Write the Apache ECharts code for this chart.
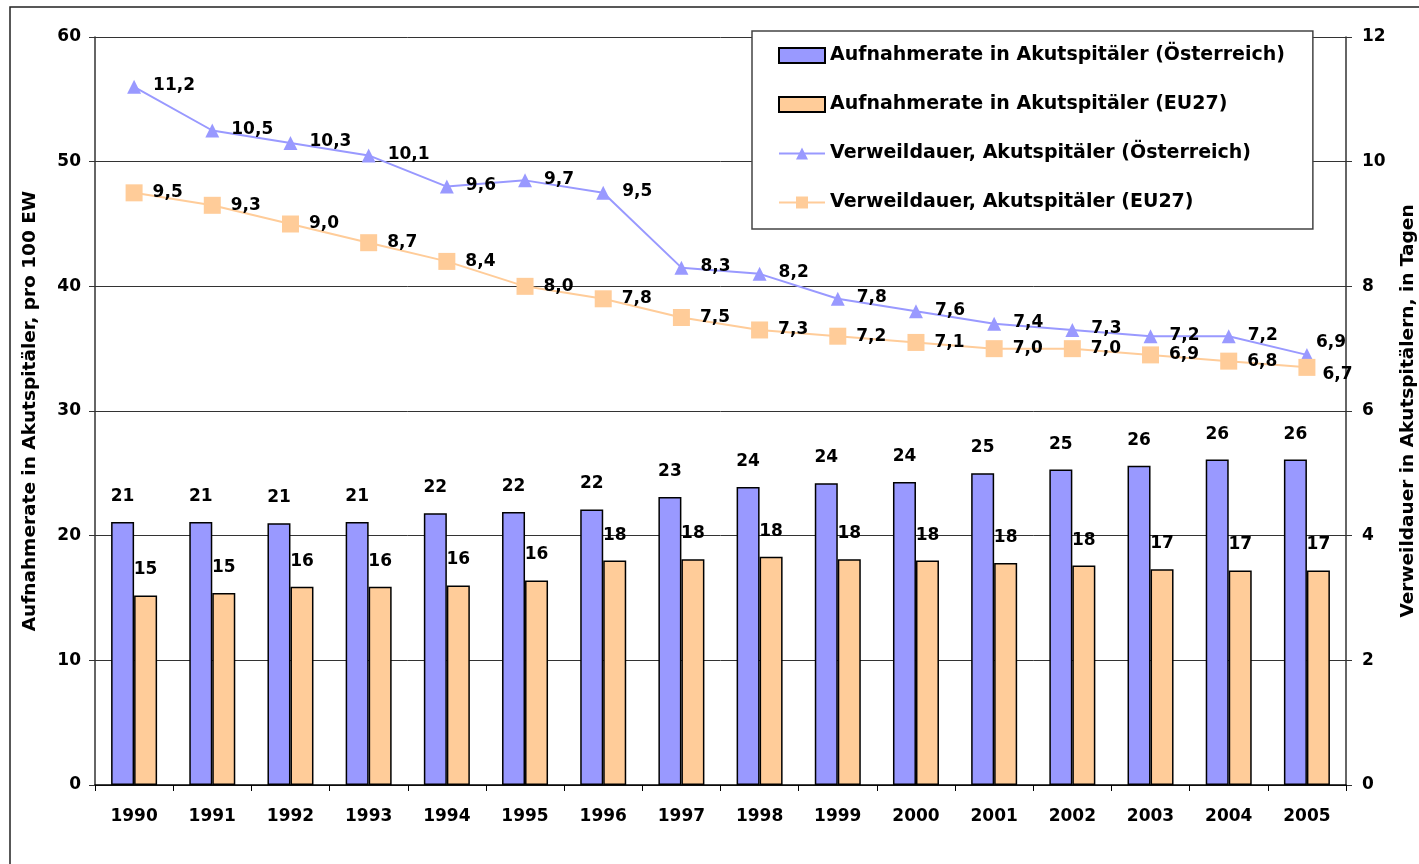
<!DOCTYPE html>
<html>
<head>
<meta charset="utf-8">
<script src="https://cdn.jsdelivr.net/npm/echarts@6/dist/echarts.min.js"></script>
<style>
  html, body { margin: 0; padding: 0; background: #fff; }
  #main { width: 1419px; height: 864px; }
</style>
</head>
<body>
<div id="main"></div>
<script>
var years = ['1990', '1991', '1992', '1993', '1994', '1995', '1996', '1997',
             '1998', '1999', '2000', '2001', '2002', '2003', '2004', '2005'];

// admissions per 100 inhabitants (bars, left axis)
var admAT = [21.1, 21.1, 21.0, 21.1, 21.8, 21.9, 22.1, 23.1, 23.9, 24.2, 24.3, 25.0, 25.3, 25.6, 26.1, 26.1];
var admEU = [15.2, 15.4, 15.9, 15.9, 16.0, 16.4, 18.0, 18.1, 18.3, 18.1, 18.0, 17.8, 17.6, 17.3, 17.2, 17.2];

// length of stay in days (lines, right axis)
var stayAT = [11.2, 10.5, 10.3, 10.1, 9.6, 9.7, 9.5, 8.3, 8.2, 7.8, 7.6, 7.4, 7.3, 7.2, 7.2, 6.9];
var stayEU = [9.5, 9.3, 9.0, 8.7, 8.4, 8.0, 7.8, 7.5, 7.3, 7.2, 7.1, 7.0, 7.0, 6.9, 6.8, 6.7];

var leftTicks = [0, 10, 20, 30, 40, 50, 60];
var rightTicks = [0, 2, 4, 6, 8, 10, 12];

var FONT = 'DejaVu Sans, Verdana, sans-serif';
var FSIZE = 17;
var BLUE = '#9999FF';
var ORANGE = '#FFCC99';

var myChart = echarts.init(document.getElementById('main'));

// last point label gets its own nudge (it sits against the right axis)
function lineData(values, lastOffset) {
    return values.map(function (v, i) {
        var item = { value: v };
        if (i === values.length - 1) {
            item.label = { offset: lastOffset };
        }
        return item;
    });
}

var labelStyle = {
    show: true,
    color: '#000',
    fontFamily: FONT,
    fontWeight: 'bold',
    fontSize: FSIZE
};

var axisText = {
    color: '#000',
    fontFamily: FONT,
    fontWeight: 'bold',
    fontSize: FSIZE
};

var bigText = Object.assign({}, axisText, { fontSize: 19 });

var option = {
    animation: false,
    backgroundColor: '#fff',
    textStyle: { fontFamily: FONT },
    graphic: [{
        type: 'rect',
        shape: { x: 10, y: 7, width: 1430, height: 900 },
        style: { fill: 'none', stroke: '#222', lineWidth: 1.5 },
        silent: true,
        z: -1
    }],
    legend: {
        orient: 'vertical',
        left: 752,
        top: 31,
        padding: [15, 28, 17, 26],
        itemGap: 30,
        itemWidth: 46,
        itemHeight: 15,
        backgroundColor: '#fff',
        borderColor: '#444',
        borderWidth: 1.5,
        textStyle: bigText,
        data: [
            { name: 'Aufnahmerate in Akutspitäler (Österreich)', icon: 'rect' },
            { name: 'Aufnahmerate in Akutspitäler (EU27)', icon: 'rect' },
            { name: 'Verweildauer, Akutspitäler (Österreich)' },
            { name: 'Verweildauer, Akutspitäler (EU27)' }
        ]
    },
    grid: {
        left: 95,
        right: 73,
        top: 37,
        bottom: 79,
        outerBoundsMode: 'none'
    },
    xAxis: {
        type: 'category',
        data: years,
        axisLine: { lineStyle: { color: '#000', width: 1.5 } },
        axisTick: { show: true, length: 6, lineStyle: { color: '#000' } },
        axisLabel: Object.assign({ margin: 23 }, axisText)
    },
    yAxis: [{
        type: 'value',
        min: leftTicks[0],
        max: leftTicks[leftTicks.length - 1],
        interval: 10,
        name: 'Aufnahmerate in Akutspitäler, pro 100 EW',
        nameLocation: 'middle',
        nameGap: 55,
        nameTextStyle: Object.assign({}, axisText, { fontSize: 18.5 }),
        axisLine: { show: true, lineStyle: { color: '#333', width: 1.5 } },
        axisTick: { show: true, length: 6, lineStyle: { color: '#333' } },
        axisLabel: Object.assign({ margin: 14 }, axisText),
        splitLine: { show: true, lineStyle: { color: '#333', width: 1 } }
    }, {
        type: 'value',
        min: rightTicks[0],
        max: rightTicks[rightTicks.length - 1],
        interval: 2,
        name: 'Verweildauer in Akutspitälern, in Tagen',
        nameLocation: 'middle',
        nameGap: 53,
        nameTextStyle: Object.assign({}, axisText, { fontSize: 18.5 }),
        axisLine: { show: true, lineStyle: { color: '#333', width: 1.5 } },
        axisTick: { show: true, length: 6, lineStyle: { color: '#333' } },
        axisLabel: Object.assign({ margin: 16 }, axisText),
        splitLine: { show: false }
    }],
    series: [{
        name: 'Aufnahmerate in Akutspitäler (Österreich)',
        type: 'bar',
        yAxisIndex: 0,
        data: admAT,
        barWidth: 23,
        barGap: '0%',
        itemStyle: { color: BLUE, borderColor: '#000', borderWidth: 1.5 },
        label: Object.assign({}, labelStyle, {
            position: 'top',
            distance: 17,
            formatter: function (p) { return Math.round(p.value); }
        })
    }, {
        name: 'Aufnahmerate in Akutspitäler (EU27)',
        type: 'bar',
        yAxisIndex: 0,
        data: admEU,
        barWidth: 23,
        barGap: '0%',
        itemStyle: { color: ORANGE, borderColor: '#000', borderWidth: 1.5 },
        label: Object.assign({}, labelStyle, {
            position: 'top',
            distance: 17,
            formatter: function (p) { return Math.round(p.value); }
        })
    }, {
        name: 'Verweildauer, Akutspitäler (Österreich)',
        type: 'line',
        yAxisIndex: 1,
        data: lineData(stayAT, [-10, -12]),
        symbol: 'triangle',
        symbolSize: 14,
        itemStyle: { color: BLUE },
        lineStyle: { color: BLUE, width: 2 },
        label: Object.assign({}, labelStyle, {
            position: 'right',
            distance: 12,
            offset: [0, -1],
            formatter: function (p) { return p.value.toFixed(1).replace('.', ','); }
        }),
        z: 3
    }, {
        name: 'Verweildauer, Akutspitäler (EU27)',
        type: 'line',
        yAxisIndex: 1,
        data: lineData(stayEU, [-3, 7]),
        symbol: 'rect',
        symbolSize: 17,
        itemStyle: { color: ORANGE },
        lineStyle: { color: ORANGE, width: 2 },
        label: Object.assign({}, labelStyle, {
            position: 'right',
            distance: 10,
            offset: [0, 0],
            formatter: function (p) { return p.value.toFixed(1).replace('.', ','); }
        }),
        z: 3
    }]
};

myChart.setOption(option);
</script>
</body>
</html>
